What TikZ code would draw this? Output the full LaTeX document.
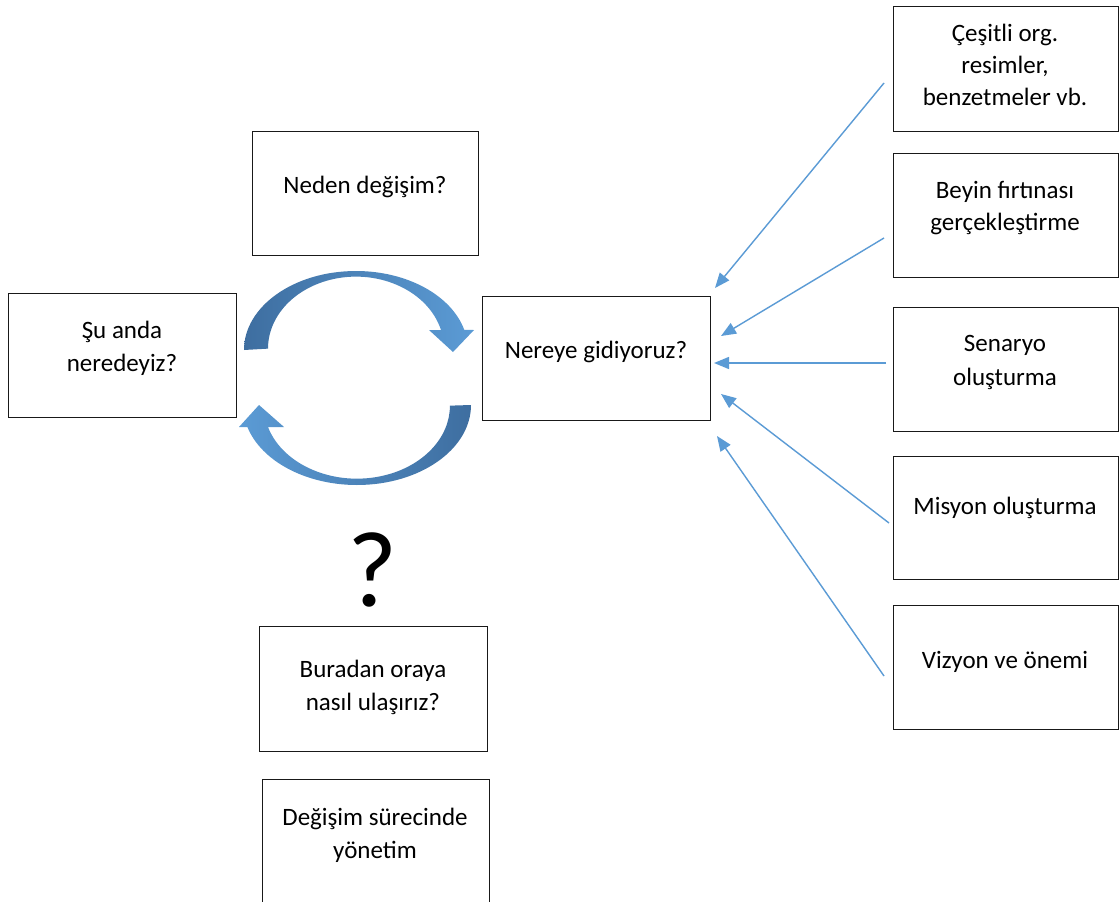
\documentclass[tikz,border=0pt]{standalone}
\usepackage{fontspec}
\setmainfont{Carlito}
\usetikzlibrary{arrows.meta}
\definecolor{arrowblue}{RGB}{91,155,213}
\definecolor{darkblue}{RGB}{62,110,160}
\definecolor{boxline}{RGB}{25,25,25}
\begin{document}
\begin{tikzpicture}[x=1pt,y=-1pt,
  box/.style={draw=boxline, line width=1.4pt, anchor=north west, inner sep=0pt, minimum width=#1},
  txt/.style={anchor=base, inner sep=0pt, font=\fontsize{25}{33}\selectfont, text=black},
  conn/.style={draw=arrowblue, line width=1.4pt, -{Triangle[length=15pt,width=12pt]}}]
\clip (0,0) rectangle (1120,902);
\fill[white] (0,0) rectangle (1120,902);
% boxes
\node[box=228pt, minimum height=124pt] (su) at (8,293) {};
\node[box=226pt, minimum height=124pt] (neden) at (252,131) {};
\node[box=228pt, minimum height=124pt] (nereye) at (482,296) {};
\node[box=228pt, minimum height=125pt] (buradan) at (259,626) {};
\node[box=227pt, minimum height=140pt] (degisim) at (262,779) {};
\node[box=225pt, minimum height=125pt] (cesitli) at (893,6) {};
\node[box=225pt, minimum height=124pt] (beyin) at (893,153) {};
\node[box=225pt, minimum height=124pt] (senaryo) at (893,307) {};
\node[box=225pt, minimum height=123pt] (misyon) at (893,456) {};
\node[box=225pt, minimum height=124pt] (vizyon) at (893,605) {};
% texts
\node[txt] (t-su1) at (122,338) {Şu anda};
\node[txt] (t-su2) at (122,371) {neredeyiz?};
\node[txt] (t-neden) at (365,193) {Neden değişim?};
\node[txt] (t-nereye) at (596,358) {Nereye gidiyoruz?};
\node[txt] (t-bur1) at (373,677) {Buradan oraya};
\node[txt] (t-bur2) at (373,710) {nasıl ulaşırız?};
\node[txt] (t-deg1) at (375,825) {Değişim sürecinde};
\node[txt] (t-deg2) at (375,858) {yönetim};
\node[txt] (t-ces1) at (1005,41) {Çeşitli org.};
\node[txt] (t-ces2) at (1005,73) {resimler,};
\node[txt] (t-ces3) at (1005,105) {benzetmeler vb.};
\node[txt] (t-bey1) at (1005,198) {Beyin fırtınası};
\node[txt] (t-bey2) at (1005,230) {gerçekleştirme};
\node[txt] (t-sen1) at (1005,351) {Senaryo};
\node[txt] (t-sen2) at (1005,385) {oluşturma};
\node[txt] (t-mis) at (1005,514) {Misyon oluşturma};
\node[txt] (t-viz) at (1005,668) {Vizyon ve önemi};
% question mark
\node[anchor=base, inner sep=0pt, font=\fontsize{108}{108}\selectfont] (q) at (373,606) {?};
% curved arrows
\shade[left color=darkblue, right color=arrowblue]
  (244,350) arc[start angle=180, end angle=345.3, x radius=112, y radius=79]
  -- (474,330) -- (453,352) -- (429,330) -- (441,330)
  arc[start angle=345, end angle=180, x radius=88, y radius=72] -- cycle;
\shade[left color=arrowblue, right color=darkblue]
  (471,405) arc[start angle=0, end angle=164, x radius=114, y radius=80]
  -- (239,427) -- (259,405) -- (284,427) -- (268,427)
  arc[start angle=163, end angle=0, x radius=93, y radius=73] -- cycle;
% connectors
\coordinate (s1) at (884,83);  \coordinate (e1) at (715,288);
\coordinate (s2) at (884,238); \coordinate (e2) at (721,336);
\coordinate (s3) at (886,363); \coordinate (e3) at (714,363);
\coordinate (s4) at (889,523); \coordinate (e4) at (721,394);
\coordinate (s5) at (884,676); \coordinate (e5) at (717,436);
\draw[conn] (s1) -- (e1);
\draw[conn] (s2) -- (e2);
\draw[conn] (s3) -- (e3);
\draw[conn] (s4) -- (e4);
\draw[conn] (s5) -- (e5);
\end{tikzpicture}
\end{document}
